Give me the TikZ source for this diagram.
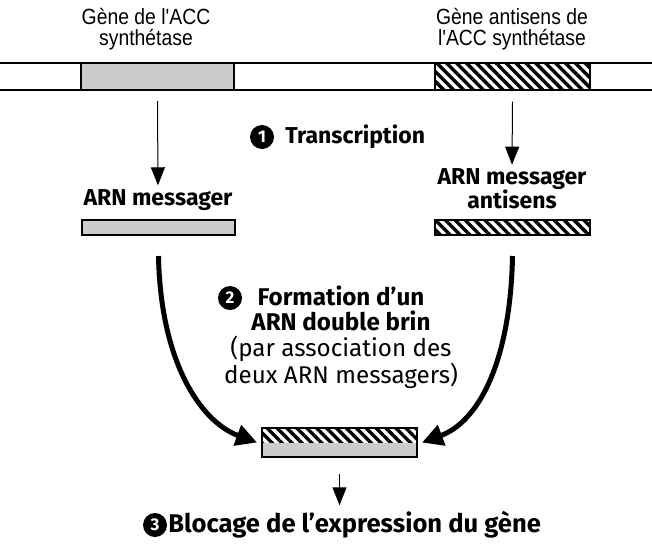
\documentclass[tikz,border=0pt]{standalone}
\usepackage{fontspec}
\setmainfont{Fira Sans}
\newfontfamily\arialn[FakeStretch=0.88]{Liberation Sans}
\usetikzlibrary{arrows.meta,patterns.meta,positioning}

\begin{document}
\begin{tikzpicture}[x=1pt,y=-1pt,
  legende/.style={font=\arialn\fontsize{22}{21.5}\selectfont, align=center, inner sep=0pt},
  titre/.style={font=\bfseries\fontsize{23}{24}\selectfont, inner sep=0pt},
  pastille/.style={circle, fill=black, text=white, inner sep=0pt, minimum size=24pt,
    font=\bfseries\fontsize{17}{17}\selectfont},
  sens/.style={draw, line width=2pt, fill=black!20, inner sep=0pt},
  antisens/.style={draw, line width=2pt, inner sep=0pt,
    pattern={Lines[angle=-45,distance=7pt,line width=3.4pt]}},
  fleche/.style={line width=1pt, -{Triangle[length=18pt,width=14pt]}},
  grossefleche/.style={line width=5pt, -{Triangle[length=21pt,width=21pt]}}]
  \useasboundingbox (0,0) rectangle (652,547);
  % les deux genes sur l'ADN
  \node[legende] (lblGeneA) at (146,29) {Gène de l'ACC\\synthétase};
  \node[legende] (lblGeneB) at (512,29) {Gène antisens de\\l'ACC synthétase};
  \draw[line width=2pt] (0,63) -- (652,63);
  \draw[line width=1.6pt] (0,90) -- (652,90);
  \node[sens, minimum width=153pt, minimum height=27pt] (geneA) at (157.5,76.5) {};
  \node[antisens, minimum width=155pt, minimum height=27pt] (geneB) at (512.5,76.5) {};
  % 1 transcription
  \node[pastille] (n1) at (262,137) {1};
  \node[titre, right=11pt of n1] (transcr) {Transcription};
  \node[titre] (lblArnA) at (158,200) {ARN messager};
  \node[sens, minimum width=153pt, minimum height=15pt] (arnA) at (158.5,227.5) {};
  \node[titre, align=center] (lblArnB) at (512,189) {ARN messager\\antisens};
  \node[antisens, minimum width=155pt, minimum height=15pt] (arnB) at (512.5,227.5) {};
  \draw[fleche] ([yshift=-10pt]geneA.south) -- ([yshift=4pt]lblArnA.north);
  \draw[fleche] ([yshift=-10pt]geneB.south) -- ([yshift=4pt]lblArnB.north);
  % 2 ARN double brin
  \node[pastille] (n2) at (230,298) {2};
  \node[align=center, inner sep=0pt, font=\fontsize{24.2}{25.6}\selectfont] (formation) at (341,337)
    {\textbf{Formation d'un}\\\textbf{ARN double brin}\\(par association des\\deux ARN messagers)};
  \node[antisens, draw=none, minimum width=155pt, minimum height=14.5pt] (dsHaut) at (339.5,435.25) {};
  \node[sens, draw=none, minimum width=155pt, minimum height=14.5pt] (dsBas) at (339.5,449.75) {};
  \node[draw, line width=2pt, minimum width=155pt, minimum height=29pt, inner sep=0pt] (dsBar) at (339.5,442.5) {};
  \draw[grossefleche] ([yshift=-20pt]arnA.south) .. controls +(2,105) and +(-57,-21) .. ([xshift=-4pt]dsBar.west);
  \draw[grossefleche] ([yshift=-20pt]arnB.south) .. controls +(-2,105) and +(57,-21) .. ([xshift=4pt]dsBar.east);
  % 3 blocage
  \node[pastille] (n3) at (155,525) {3};
  \node[titre, font=\bfseries\fontsize{25.6}{26}\selectfont, right=1pt of n3] (blocage) {Blocage de l'expression du gène};
  \coordinate (bout) at (dsBar.south |- blocage.north);
  \draw[fleche] ([yshift=-16pt]dsBar.south) -- ([yshift=6pt]bout);
\end{tikzpicture}
\end{document}
